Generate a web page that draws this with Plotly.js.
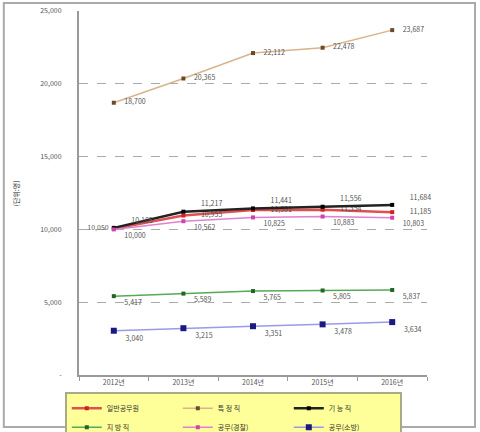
<!DOCTYPE html>
<html>
<head>
<meta charset="utf-8">
<script src="https://cdn.plot.ly/plotly-3.0.1.min.js"></script>
<style>
  html, body { margin: 0; padding: 0; background: #fff; }
  #chart { width: 480px; height: 432px; }
</style>
</head>
<body>
<div id="chart"></div>
<script>
var years = ['2012년', '2013년', '2014년', '2015년', '2016년'];

var seriesNames = ['일반공무원', '특 정 직', '기 능 직', '지 방 직', '공무(경찰)', '공무(소방)'];

var ilban = [10050, 10955, 11331, 11354, 11185];
var teukjeong = [18700, 20365, 22112, 22478, 23687];
var gineung = [10105, 11217, 11441, 11556, 11684];
var jibang = [5417, 5589, 5765, 5805, 5837];
var gyeongchal = [10000, 10562, 10825, 10883, 10803];
var sobang = [3040, 3215, 3351, 3478, 3634];

var yTicks = [0, 5000, 10000, 15000, 20000, 25000];
var yTickText = ['-', '5,000', '10,000', '15,000', '20,000', '25,000'];

var FONT = 'Noto Sans CJK KR, DejaVu Sans, sans-serif';

function fmt(v, pad) {
    return pad + v.toLocaleString('en-US');
}

function line(name, ys, color, markerColor, width, msize, textpos, pad) {
    return {
        type: 'scatter',
        mode: 'lines+markers+text',
        name: name,
        x: years,
        y: ys,
        text: ys.map(function (v) { return fmt(v, pad); }),
        textposition: textpos,
        textfont: { family: FONT, size: 7, color: '#555' },
        line: { color: color, width: width },
        marker: { color: markerColor, size: msize, symbol: 'square' },
        cliponaxis: false
    };
}

var data = [
    line(seriesNames[0], ilban, '#e05050', '#cc2222', 2.5, 4,
        ['middle left', 'middle right', 'middle right', 'middle right', 'middle right'], '\u2003\u2003'),
    line(seriesNames[1], teukjeong, '#d8b48a', '#6b4a2a', 1.5, 4, 'middle right', '\u2003'),
    line(seriesNames[2], gineung, '#222222', '#000000', 2.5, 4, 'top right', '\u2003\u2003'),
    line(seriesNames[3], jibang, '#55aa55', '#226622', 1.5, 4, 'bottom right', '\u2003'),
    line(seriesNames[4], gyeongchal, '#e080d0', '#cc44aa', 1.5, 4, 'bottom right', '\u2003'),
    line(seriesNames[5], sobang, '#9a9ae8', '#1a1a80', 1.5, 6, 'bottom right', '\u2003')
];
// the first label of the red series sits left of its point, keep it unpadded
data[0].text[0] = ilban[0].toLocaleString('en-US') + ' ';

// plot area: x 79..427, y 11..375
var layout = {
    width: 480,
    height: 432,
    margin: { l: 79, r: 53, t: 11, b: 57 },
    paper_bgcolor: '#ffffff',
    plot_bgcolor: '#ffffff',
    font: { family: FONT, size: 8, color: '#444' },
    showlegend: true,
    legend: {
        orientation: 'h',
        xref: 'container', yref: 'container',
        x: 0.135, xanchor: 'left',
        y: 0.093, yanchor: 'top',
        bgcolor: '#ffff99',
        bordercolor: '#aaaa88',
        borderwidth: 2,
        entrywidth: 66,
        entrywidthmode: 'pixels',
        font: { family: FONT, size: 7, color: '#333' },
        tracegroupgap: 0,
        itemwidth: 30
    },
    xaxis: {
        type: 'category',
        range: [-0.5, 4.5],
        showgrid: false,
        showline: true,
        linecolor: '#999999',
        linewidth: 2,
        ticks: 'outside',
        tickson: 'boundaries',
        ticklen: 4,
        tickcolor: '#999999',
        tickfont: { family: FONT, size: 7, color: '#555' },
        zeroline: false,
        fixedrange: true
    },
    yaxis: {
        range: [0, 25000],
        tickvals: yTicks,
        ticktext: yTickText,
        showgrid: true,
        gridcolor: '#aaaaaa',
        griddash: 'dash',
        gridwidth: 1,
        showline: true,
        linecolor: '#999999',
        linewidth: 2,
        ticks: '',
        ticklabelstandoff: 14,
        tickfont: { family: FONT, size: 7, color: '#555' },
        zeroline: false,
        fixedrange: true
    },
    annotations: [{
        text: '(단위:명)',
        xref: 'paper', yref: 'paper',
        x: -0.2, y: 0.5,
        textangle: -90,
        showarrow: false,
        font: { family: FONT, size: 7, color: '#222' }
    }],
    shapes: [{
        type: 'rect',
        xref: 'paper', yref: 'paper',
        x0: -0.216, x1: 1.138,
        y0: -0.143, y1: 1.022,
        line: { color: '#aaaaaa', width: 2 },
        layer: 'below'
    }]
};

Plotly.newPlot('chart', data, layout, { displayModeBar: false, staticPlot: true });
</script>
</body>
</html>
